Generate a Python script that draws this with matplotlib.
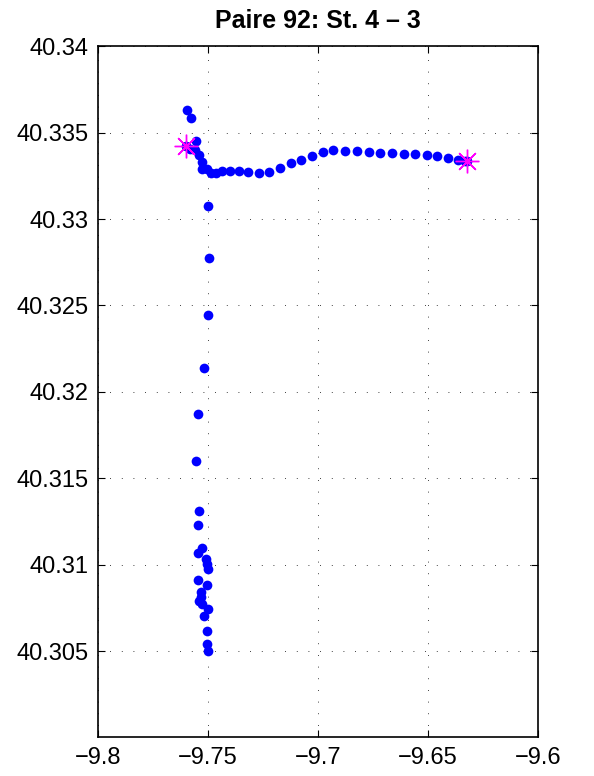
import matplotlib.pyplot as plt
import numpy as np

# ---------- DATA ----------
# track positions (lon, lat)
lon = [-9.7600, -9.7594, -9.7579, -9.7555, -9.7582, -9.7560, -9.7541, -9.7526, -9.7526,
       -9.7506, -9.7488, -9.7464, -9.7436, -9.7401, -9.7361, -9.7317, -9.7268,
       -9.7221, -9.7173, -9.7124, -9.7076, -9.7027, -9.6979, -9.6930, -9.6876,
       -9.6821, -9.6770, -9.6718, -9.6665, -9.6610, -9.6558, -9.6506, -9.6458,
       -9.6408, -9.6362, -9.6330, -9.6321,
       -9.7501, -9.7494, -9.7500, -9.7518, -9.7544, -9.7555,
       -9.7542, -9.7547, -9.7526, -9.7545, -9.7509, -9.7505, -9.7501, -9.7544,
       -9.7503, -9.7532, -9.7532, -9.7540, -9.7529, -9.7499, -9.7520, -9.7506,
       -9.7503, -9.7501]
lat = [40.33423, 40.33634, 40.33583, 40.33454, 40.33408, 40.33398, 40.33369, 40.33329, 40.33290,
       40.33288, 40.33265, 40.33269, 40.33276, 40.33278, 40.33278, 40.33275, 40.33269,
       40.33272, 40.33296, 40.33323, 40.33342, 40.33365, 40.33388, 40.33398, 40.33394,
       40.33392, 40.33388, 40.33385, 40.33381, 40.33377, 40.33375, 40.33371, 40.33367,
       40.33356, 40.33340, 40.33336, 40.33334,
       40.33076, 40.32777, 40.32447, 40.32136, 40.31871, 40.31600,
       40.31312, 40.31231, 40.31096, 40.31065, 40.31032, 40.31005, 40.30974, 40.30913,
       40.30880, 40.30841, 40.30812, 40.30787, 40.30770, 40.30743, 40.30702, 40.30618,
       40.30538, 40.30502]

# stations
st_lon = [-9.7600, -9.6321]
st_lat = [40.33423, 40.33334]

xticks = [-9.8, -9.75, -9.7, -9.65, -9.6]
yticks = [40.305, 40.31, 40.315, 40.32, 40.325, 40.33, 40.335, 40.34]
title = "Paire 92: St. 4 \u2013 3"

# ---------- PLOT ----------
plt.rcParams['font.family'] = ['Liberation Sans', 'DejaVu Sans']

fig = plt.figure(figsize=(5.94, 7.76), dpi=100)
ax = fig.add_axes([0.165, 0.0497, 0.7407, 0.8906])

ax.plot(lon, lat, 'o', color=(0, 0, 1), markersize=7, markeredgewidth=0)
ax.plot(st_lon, st_lat, linestyle='none', marker=(8, 2, 0), color=(1, 0, 1),
        markersize=17, markeredgewidth=1.0)

ax.set_xlim(-9.8, -9.6)
ax.set_ylim(40.30, 40.34)
ax.set_xticks(xticks)
ax.set_xticklabels([("%g" % v).replace("-", "\u2212") for v in xticks])
ax.set_yticks(yticks)
ax.set_yticklabels(["%g" % v for v in yticks])

ax.grid(True, color='black', linestyle=(0, (1, 13)), linewidth=0.6)
ax.tick_params(direction='in', top=True, right=True, labelsize=17, length=5,
               width=0.8, pad=7)
for s in ax.spines.values():
    s.set_linewidth(1.2)

ax.set_title(title, fontsize=18, fontweight='bold', pad=13)

fig.savefig("out.png", dpi=100)
